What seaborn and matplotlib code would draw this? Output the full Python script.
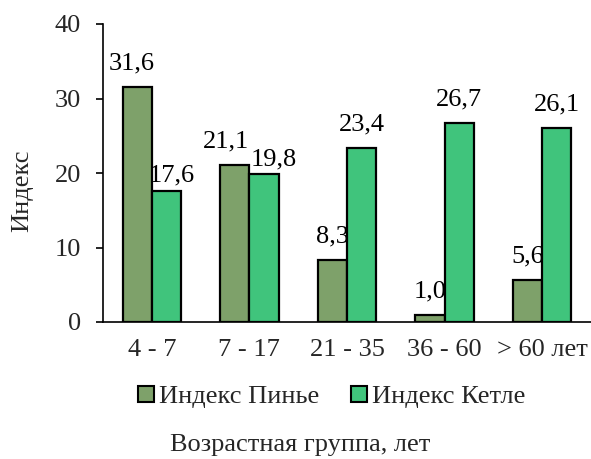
import matplotlib
matplotlib.use("Agg")
import matplotlib.pyplot as plt
import seaborn as sns
import pandas as pd
from matplotlib.patches import Patch

groups = ["4 - 7", "7 - 17", "21 - 35", "36 - 60", "> 60 лет"]
series = ["Индекс Пинье", "Индекс Кетле"]
pinier = [31.6, 21.1, 8.3, 1.0, 5.6]
quetelet = [17.6, 19.8, 23.4, 26.7, 26.1]
colors = ["#7EA16A", "#40C47C"]

df = pd.DataFrame({
    "group": groups * 2,
    "value": pinier + quetelet,
    "series": [series[0]] * len(groups) + [series[1]] * len(groups),
})

sns.set_theme(style="white")
plt.rcParams["font.family"] = ["Liberation Serif", "DejaVu Serif"]
fs = 19

fig = plt.figure(figsize=(5.91, 4.59), dpi=100)
ax = fig.add_axes([103 / 591, (459 - 322) / 459, (591 - 103) / 591, (322 - 24) / 459])

sns.barplot(data=df, x="group", y="value", hue="series", palette=colors,
            order=groups, hue_order=series, width=0.6, gap=0, saturation=1,
            edgecolor="black", linewidth=1.6, ax=ax, legend=False)

# label nudges (points) so that neighbouring labels in the crowded groups stay apart
nudges = [
    [(-4, 0), (-6, 0), (0, 0), (0, 0), (0, 0)],
    [(4, -6), (7, -6), (0, 0), (0, 0), (0, 0)],
]
for cont, shifts in zip(ax.containers, nudges):
    vals = [p.get_height() for p in cont]
    anns = ax.bar_label(cont, labels=[f"{v:.1f}".replace(".", ",") for v in vals],
                        padding=9, fontsize=fs, color="black")
    for ann, (dx, dy) in zip(anns, shifts):
        x0, y0 = ann.xyann
        ann.xyann = (x0 + dx, y0 + dy)

ax.set_xlim(-0.5, 4.5)
ax.set_ylim(0, 40)
ax.set_yticks([0, 10, 20, 30, 40])
ax.set_xlabel("")
ax.set_ylabel("Индекс", fontsize=fs)
ax.yaxis.set_label_coords(-0.143, 0.44)
ax.tick_params(axis="y", which="both", left=True, length=5, width=1.2,
               labelsize=fs, pad=11, direction="out", color="black")
ax.tick_params(axis="x", length=0, labelsize=fs, pad=12)
for s in ["top", "right"]:
    ax.spines[s].set_visible(False)
for s in ["left", "bottom"]:
    ax.spines[s].set_color("black")
    ax.spines[s].set_linewidth(1.2)

handles = [Patch(facecolor=c, edgecolor="black", linewidth=1.5) for c in colors]
fig.legend(handles, series, loc="center", bbox_to_anchor=(332 / 591, 1 - 397 / 459),
           ncol=2, frameon=False, fontsize=fs, handlelength=0.6, handleheight=0.6,
           handletextpad=0.2, columnspacing=1.2)

fig.text(300 / 591, 1 - 445 / 459, "Возрастная группа, лет", ha="center",
         va="center", fontsize=fs)

fig.savefig("out.png", dpi=100)
